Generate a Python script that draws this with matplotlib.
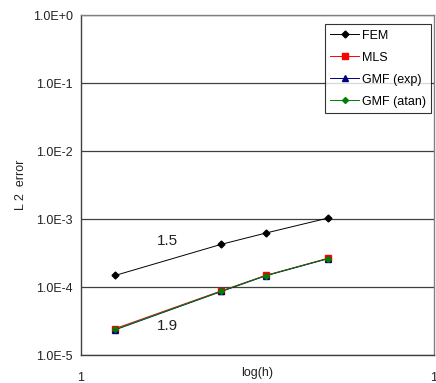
import numpy as np
import matplotlib
matplotlib.use('Agg')
import matplotlib.pyplot as plt
from matplotlib.ticker import FixedLocator, NullLocator

plt.rcParams['font.family'] = ['Liberation Sans', 'DejaVu Sans']

# mesh size and L2 error for each method
h        = [1/8, 1/4, 1/3, 1/2]
err_fem  = [1.48e-4, 4.25e-4, 6.2e-4, 1.03e-3]
err_mls  = [2.45e-5, 8.8e-5, 1.48e-4, 2.64e-4]
err_gexp = [2.35e-5, 8.6e-5, 1.46e-4, 2.60e-4]
err_gatn = [2.38e-5, 8.7e-5, 1.47e-4, 2.62e-4]

yticks = [1e-5, 1e-4, 1e-3, 1e-2, 1e-1, 1e0]
ylabels = ['1.0E-5', '1.0E-4', '1.0E-3', '1.0E-2', '1.0E-1', '1.0E+0']

fig = plt.figure(figsize=(4.36, 3.83), dpi=100)
ax = fig.add_axes([81/436, 1-355/383, 353/436, 340/383])

ax.plot(h, err_fem, color='black', marker='D', ms=3.5, lw=0.7, label='FEM')
ax.plot(h, err_mls, color='red', marker='s', ms=4, lw=0.7, label='MLS')
ax.plot(h, err_gexp, color='navy', marker='^', ms=4, lw=0.7, label='GMF (exp)')
ax.plot(h, err_gatn, color='green', marker='D', ms=3, lw=0.7, label='GMF (atan)')

ax.set_xscale('log')
ax.set_yscale('log')
ax.set_xlim(0.1, 1)
ax.set_ylim(1e-5, 1)
ax.xaxis.set_major_locator(FixedLocator([0.1, 1]))
ax.xaxis.set_minor_locator(NullLocator())
ax.set_xticklabels(['1', '1'])
ax.yaxis.set_major_locator(FixedLocator(yticks))
ax.yaxis.set_minor_locator(NullLocator())
ax.set_yticklabels(ylabels)
ax.tick_params(length=0, labelsize=9, colors='#222222')
ax.tick_params(axis='y', pad=6)
ax.tick_params(axis='x', pad=12)
ax.grid(axis='y', color='#404040', lw=0.9)
for s in ax.spines.values():
    s.set_color('#808080')
    s.set_linewidth(1.0)
ax.spines['left'].set_color('#404040')
ax.spines['bottom'].set_color('#404040')

# convergence rates
ax.text(0.176, 4.7e-4, '1.5', fontsize=11, ha='center', va='center', color='#222222')
ax.text(0.176, 2.7e-5, '1.9', fontsize=11, ha='center', va='center', color='#222222')

ax.set_xlabel('log(h)', fontsize=9, labelpad=-12, color='#222222')
ax.set_ylabel('L 2  error', fontsize=9, labelpad=4, color='#222222')

leg = ax.legend(loc='upper right', bbox_to_anchor=(0.992, 0.973), fontsize=9,
                frameon=True, fancybox=False, handlelength=2.3, handletextpad=0.2,
                borderpad=0.45, labelspacing=0.8, borderaxespad=0)
leg.get_frame().set_edgecolor('black')
leg.get_frame().set_linewidth(0.8)

fig.savefig('out.png', dpi=100)
